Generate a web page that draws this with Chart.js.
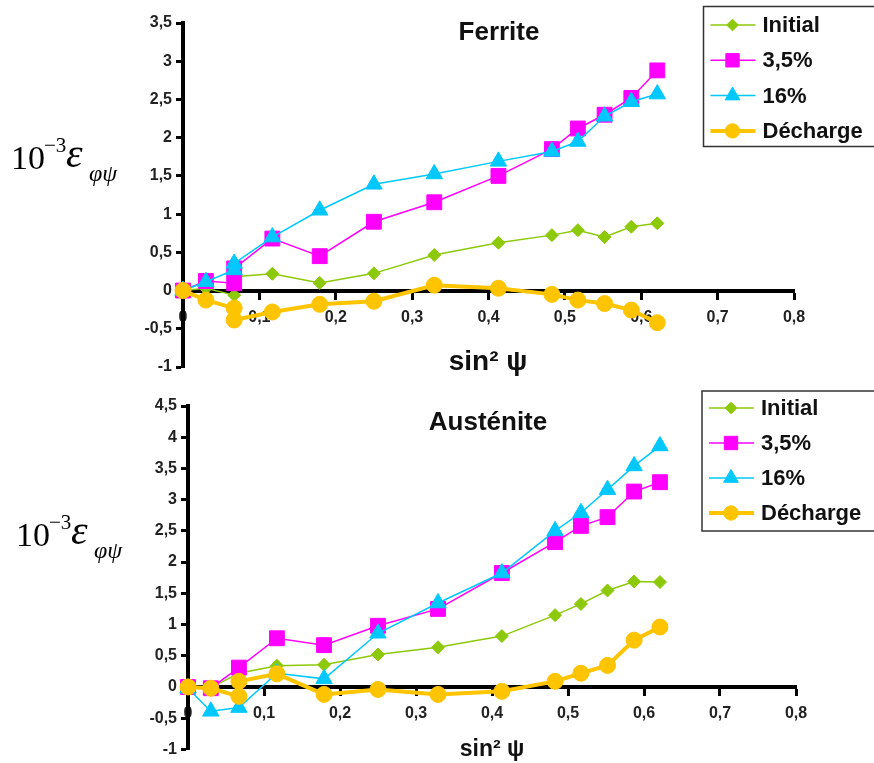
<!DOCTYPE html>
<html>
<head>
<meta charset="utf-8">
<script src="https://cdn.jsdelivr.net/npm/chart.js@4.4.0/dist/chart.umd.min.js"></script>
<style>
  body { margin: 0; background: #fff; }
  #wrap { position: relative; width: 874px; height: 763px; overflow: hidden; }
  canvas { position: absolute; left: 0; }
  .t { position: absolute; font-family: "Liberation Sans", Arial, sans-serif; font-weight: bold; color: #111;
       white-space: nowrap; line-height: 1; transform: translate(-50%, -50%); }
  .s { position: absolute; font-family: "Liberation Serif", "Times New Roman", serif; color: #000;
       line-height: 1; white-space: nowrap; }
</style>
</head>
<body>
<div id="wrap">
  <canvas id="ferrite" width="874" height="381" style="top:0"></canvas>
  <canvas id="austenite" width="874" height="382" style="top:381px"></canvas>
  <div class="t" style="left:499px;top:31px;font-size:26px">Ferrite</div>
  <div class="t" style="left:488px;top:421px;font-size:26px">Austénite</div>
  <div class="t" style="left:488px;top:361px;font-size:28px">sin² ψ</div>
  <div class="t" style="left:492px;top:748px;font-size:23px">sin² ψ</div>
</div>
<script>
// sin²psi for psi = 0,10,15,15,20,25,30,35,40,44,46,48,50,52 deg
const sinPsi = [0, 0.030, 0.067, 0.067, 0.117, 0.179, 0.250, 0.329, 0.413, 0.483, 0.517, 0.552, 0.587, 0.621];
const seriesNames = ['Initial', '3,5%', '16%', 'Décharge'];

// Ferrite (10^-3)
const ferInitial  = [0, 0.03, -0.06, 0.18, 0.22, 0.10, 0.225, 0.465, 0.625, 0.725, 0.79, 0.70, 0.835, 0.88];
const fer35       = [0, 0.125, 0.095, 0.29, 0.68, 0.45, 0.90, 1.155, 1.50, 1.85, 2.12, 2.30, 2.52, 2.88];
const fer16       = [0, 0.115, 0.27, 0.355, 0.70, 1.05, 1.39, 1.525, 1.69, 1.82, 1.95, 2.28, 2.47, 2.57];
const ferDecharge = [0, -0.125, -0.23, -0.385, -0.28, -0.18, -0.14, 0.07, 0.03, -0.05, -0.125, -0.17, -0.255, -0.42];

// Austenite (10^-3)
const ausInitial  = [0, -0.01, null, 0.22, 0.34, 0.355, 0.52, 0.635, 0.815, 1.15, 1.33, 1.545, 1.69, 1.68];
const aus35       = [0, -0.02, null, 0.31, 0.78, 0.67, 0.98, 1.25, 1.825, 2.32, 2.58, 2.72, 3.13, 3.28];
const aus16       = [-0.02, -0.39, null, -0.33, 0.22, 0.13, 0.86, 1.345, 1.825, 2.50, 2.79, 3.16, 3.54, 3.86];
const ausDecharge = [0, -0.02, -0.15, 0.09, 0.21, -0.12, -0.04, -0.12, -0.07, 0.09, 0.22, 0.345, 0.75, 0.96];

const xTicks = [0, 0.1, 0.2, 0.3, 0.4, 0.5, 0.6, 0.7, 0.8];
const ferYTicks = [-1, -0.5, 0, 0.5, 1, 1.5, 2, 2.5, 3, 3.5];
const ausYTicks = [-1, -0.5, 0, 0.5, 1, 1.5, 2, 2.5, 3, 3.5, 4, 4.5];

const styles = [
  { color: '#8CC90A', pointStyle: 'rectRot',  radius: 6.5,  width: 1.5, order: 4 },
  { color: '#FF00FF', pointStyle: 'rect',     radius: 10.5, width: 1.5, order: 3 },
  { color: '#00C8FF', pointStyle: 'triangle', radius: 9.5,  width: 1.5, order: 2 },
  { color: '#FFC400', pointStyle: 'circle',   radius: 8,    width: 4,   order: 1 }
];

const FONT = '"Liberation Sans", Arial, sans-serif';
const comma = v => String(Math.round(v * 10) / 10).replace('.', ',');

function buildSets(list) {
  return list.map((vals, i) => ({
    label: seriesNames[i],
    data: sinPsi.map((x, j) => ({ x: x, y: vals[j] })),
    borderColor: styles[i].color,
    backgroundColor: styles[i].color,
    pointBackgroundColor: styles[i].color,
    pointBorderColor: styles[i].color,
    pointBorderWidth: 1,
    borderWidth: styles[i].width,
    pointStyle: styles[i].pointStyle,
    pointRadius: styles[i].radius,
    order: styles[i].order,
    spanGaps: true,
    tension: 0,
    clip: false
  }));
}

// legend box drawn at a fixed place, like the original
const boxLegend = {
  id: 'boxLegend',
  afterDraw(chart, args, o) {
    const ctx = chart.ctx;
    ctx.save();
    ctx.strokeStyle = '#333';
    ctx.lineWidth = 1.5;
    ctx.strokeRect(o.left, o.top, o.width, o.height);
    chart.data.datasets.forEach((ds, i) => {
      const y = o.top + o.first + i * o.step;
      ctx.strokeStyle = ds.borderColor;
      ctx.lineWidth = ds.borderWidth;
      ctx.beginPath();
      ctx.moveTo(o.left + 7, y);
      ctx.lineTo(o.left + 52, y);
      ctx.stroke();
      ctx.fillStyle = ds.pointBackgroundColor;
      ctx.strokeStyle = ds.pointBorderColor;
      ctx.lineWidth = 1;
      Chart.helpers.drawPoint(ctx, { pointStyle: ds.pointStyle, radius: ds.pointRadius * 0.9, borderWidth: 1, rotation: 0 }, o.left + 29, y);
      ctx.fillStyle = '#111';
      ctx.font = 'bold 22px ' + FONT;
      ctx.textBaseline = 'middle';
      ctx.textAlign = 'left';
      ctx.fillText(ds.label, o.left + 59, y + 1);
    });
    ctx.restore();
  }
};

function makeChart(id, datasets, yTicks, pad, yWidth, legend) {
  return new Chart(document.getElementById(id), {
    type: 'line',
    data: { datasets: datasets },
    options: {
      responsive: false,
      animation: false,
      layout: { padding: pad },
      plugins: { legend: { display: false }, tooltip: { enabled: false }, boxLegend: legend },
      scales: {
        x: {
          type: 'linear', min: xTicks[0], max: xTicks[xTicks.length - 1],
          position: { y: 0 },
          afterBuildTicks: s => { s.ticks = xTicks.map(v => ({ value: v })); },
          afterFit: s => { s.height = 0; },
          grid: { drawOnChartArea: false, drawTicks: true, tickLength: 7, tickWidth: 3, tickColor: '#000' },
          border: { display: true, color: '#000', width: 4 },
          ticks: { color: '#222', padding: 10, autoSkip: false, maxRotation: 0,
                   font: { family: FONT, size: 16, weight: 'bold' }, callback: v => comma(v) }
        },
        y: {
          type: 'linear', min: yTicks[0], max: yTicks[yTicks.length - 1],
          afterBuildTicks: s => { s.ticks = yTicks.map(v => ({ value: v })); },
          afterFit: s => { s.width = yWidth; },
          grid: { drawOnChartArea: false, drawTicks: true, tickLength: 7, tickWidth: 3, tickColor: '#000' },
          border: { display: true, color: '#000', width: 4 },
          ticks: { color: '#222', padding: 4, autoSkip: false,
                   font: { family: FONT, size: 16, weight: 'bold' }, callback: v => comma(v) }
        }
      }
    },
    plugins: [boxLegend]
  });
}

makeChart('ferrite', buildSets([ferInitial, fer35, fer16, ferDecharge]), ferYTicks,
  { left: 0, right: 80, top: 23, bottom: 14 }, 183,
  { left: 703.5, top: 6.5, width: 172, height: 140, first: 18.5, step: 35.3 });

makeChart('austenite', buildSets([ausInitial, aus35, aus16, ausDecharge]), ausYTicks,
  { left: 0, right: 78, top: 25, bottom: 11 }, 188,
  { left: 702, top: 10, width: 174, height: 140, first: 17, step: 35 });

// y-axis label 10^-3 eps_phipsi (html text)
function yLabel(dx, dy) {
  const parts = [
    ['10', 34, 'normal', 11, 140.5],
    ['\u22123', 21, 'normal', 44, 135],
    ['\u03B5', 42, 'italic', 66, 132],
    ['\u03C6\u03C8', 24, 'italic', 89, 161]
  ];
  const wrap = document.getElementById('wrap');
  parts.forEach(p => {
    const el = document.createElement('span');
    el.className = 's';
    el.textContent = p[0];
    el.style.fontSize = p[1] + 'px';
    el.style.fontStyle = p[2];
    el.style.left = (p[3] + dx) + 'px';
    el.style.top = (p[4] + dy) + 'px';
    wrap.appendChild(el);
  });
}
yLabel(0, 0);
yLabel(5, 377);
</script>
</body>
</html>
